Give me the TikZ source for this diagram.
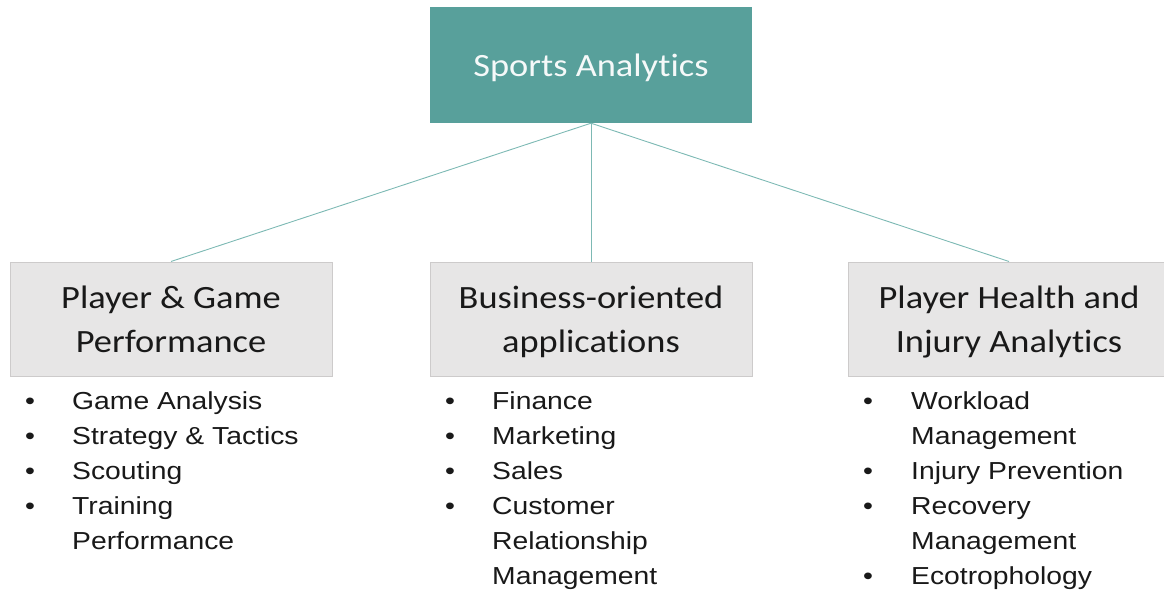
\documentclass[tikz,border=0pt]{standalone}
\usepackage{fontspec}
\newfontfamily\headfont[FakeStretch=1.12,Ligatures=NoCommon]{Carlito}
\newfontfamily\listfont[FakeStretch=1.15]{Liberation Sans}
\definecolor{teal1}{RGB}{88,160,155}
\definecolor{tealline}{RGB}{125,185,180}
\definecolor{boxfill}{RGB}{231,230,230}
\definecolor{boxedge}{RGB}{205,203,203}
\definecolor{ink}{RGB}{25,25,25}
\begin{document}
\begin{tikzpicture}[x=1pt,y=-1pt,
  rootbox/.style={draw=none, fill=teal1, minimum width=322pt, minimum height=116pt, inner sep=0pt},
  catbox/.style={draw=boxedge, line width=1pt, fill=boxfill, minimum width=322pt, minimum height=114pt, inner sep=0pt},
  headtext/.style={anchor=base, inner sep=0pt, text=ink, font=\headfont\fontsize{32.5}{40}\selectfont},
  roottext/.style={anchor=base, inner sep=0pt, text=white!94!teal1, font=\headfont\fontsize{32.5}{40}\selectfont},
  itemtext/.style={anchor=base west, inner sep=0pt, text=ink, font=\listfont\fontsize{24.6}{30}\selectfont},
  bul/.style={anchor=base, inner sep=0pt, text=ink, font=\listfont\fontsize{24.6}{30}\selectfont},
  link/.style={draw=tealline, line width=0.9pt}
]
\useasboundingbox (0,0) rectangle (1164,589);

% root and category boxes
\node[rootbox] (root) at (591,65) {};
\node[roottext] (rootlbl) at (591,76) {Sports Analytics};

\node[catbox] (perf) at (171,319) {};
\node[catbox] (biz) at (591,319) {};
\node[catbox] (health) at (1009,319) {};

% connectors from the root to each category
\draw[link] (root.south) -- (perf.north);
\draw[link] (root.south) -- (biz.north);
\draw[link] (root.south) -- (health.north);

% category titles
\node[headtext] (perf1) at (171,308) {Player \& Game};
\node[headtext] (perf2) at (171,352) {Performance};
\node[headtext] (biz1) at (591,308) {Business-oriented};
\node[headtext] (biz2) at (591,352) {applications};
\node[headtext] (health1) at (1009,308) {Player Health and};
\node[headtext] (health2) at (1009,352) {Injury Analytics};

% bullet list: player & game performance
\foreach \yy in {409,444,479,514} \node[bul] at (30,\yy) {•};
\node[itemtext] (pa) at (72,409) {Game Analysis};
\node[itemtext] (pb) at (72,444) {Strategy \& Tactics};
\node[itemtext] (pc) at (72,479) {Scouting};
\node[itemtext] (pd) at (72,514) {Training};
\node[itemtext] (pd2) at (72,549) {Performance};

% bullet list: business-oriented applications
\foreach \yy in {409,444,479,514} \node[bul] at (450,\yy) {•};
\node[itemtext] (ba) at (492,409) {Finance};
\node[itemtext] (bb) at (492,444) {Marketing};
\node[itemtext] (bc) at (492,479) {Sales};
\node[itemtext] (bd) at (492,514) {Customer};
\node[itemtext] (bd2) at (492,549) {Relationship};
\node[itemtext] (bd3) at (492,584) {Management};

% bullet list: player health and injury analytics
\foreach \yy in {409,479,514,584} \node[bul] at (868,\yy) {•};
\node[itemtext] (ha) at (911,409) {Workload};
\node[itemtext] (ha2) at (911,444) {Management};
\node[itemtext] (hb) at (911,479) {Injury Prevention};
\node[itemtext] (hc) at (911,514) {Recovery};
\node[itemtext] (hc2) at (911,549) {Management};
\node[itemtext] (hd) at (911,584) {Ecotrophology};
\end{tikzpicture}
\end{document}
